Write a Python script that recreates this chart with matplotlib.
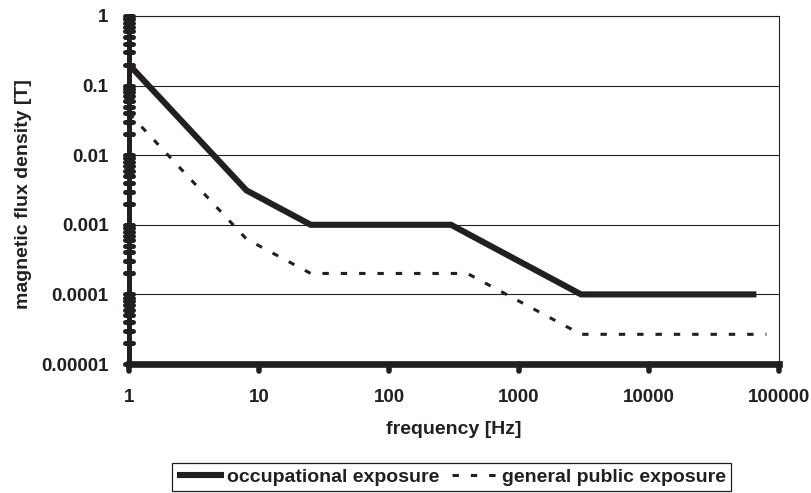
import numpy as np
import matplotlib
matplotlib.use('Agg')
import matplotlib.pyplot as plt
from matplotlib.markers import MarkerStyle
from matplotlib.ticker import FixedLocator, LogLocator, NullLocator, NullFormatter

# ====================== data ======================
# occupational exposure limits (frequency in Hz, flux density in T)
freq_occ = [1, 8, 25, 300, 3000, 67000]
b_occ = [0.2, 0.003125, 0.001, 0.001, 0.0001, 0.0001]

# general public exposure limits
freq_pub = [1, 8, 25, 400, 3000, 80000]
b_pub = [0.04, 0.000625, 0.0002, 0.0002, 0.0000267, 0.0000267]

x_ticks = [1, 10, 100, 1000, 10000, 100000]
x_tick_labels = ['1', '10', '100', '1000', '10000', '100000']
y_ticks = [1e-5, 1e-4, 1e-3, 1e-2, 1e-1, 1]
y_tick_labels = ['0.00001', '0.0001', '0.001', '0.01', '0.1', '1']

series_labels = ['occupational exposure', 'general public exposure']

# ====================== style ======================
INK = '#231f20'
plt.rcParams['font.family'] = ['Liberation Sans', 'DejaVu Sans']
plt.rcParams['font.weight'] = 'bold'
plt.rcParams['axes.labelweight'] = 'bold'
plt.rcParams['lines.scale_dashes'] = False

W, H = 811, 493
fig = plt.figure(figsize=(W / 100, H / 100), dpi=100)
# plot area in pixels: x 129..779, y 16..364
ax = fig.add_axes([129 / W, 1 - 364 / H, 650 / W, 348 / H])
ax.set_xscale('log')
ax.set_yscale('log')
ax.set_xlim(1, 1e5)
ax.set_ylim(1e-5, 1)

# horizontal gridlines at each decade
ax.yaxis.grid(True, which='major', color=INK, lw=0.8)
ax.set_axisbelow(True)

# ====================== lines ======================
occ, = ax.plot(freq_occ, b_occ, color=INK, lw=4.4, solid_joinstyle='miter',
               solid_capstyle='butt', label=series_labels[0], zorder=3)
pub, = ax.plot(freq_pub, b_pub, color=INK, lw=2.2, dashes=(4.6, 8.6),
               dash_capstyle='butt', label=series_labels[1], zorder=3)

# ====================== axes ======================
for side in ['top', 'right']:
    ax.spines[side].set_linewidth(0.8)
    ax.spines[side].set_color(INK)
ax.spines['left'].set_linewidth(3.6)
ax.spines['bottom'].set_linewidth(4.8)
ax.spines['left'].set_color(INK)
ax.spines['bottom'].set_color(INK)
ax.spines['left'].set_zorder(4)
ax.spines['bottom'].set_zorder(4)

ax.xaxis.set_major_locator(FixedLocator(x_ticks))
ax.xaxis.set_minor_locator(NullLocator())
ax.set_xticklabels(x_tick_labels)
ax.yaxis.set_major_locator(FixedLocator(y_ticks))
ax.yaxis.set_minor_locator(LogLocator(base=10, subs=np.arange(2, 10), numticks=20))
ax.yaxis.set_minor_formatter(NullFormatter())
ax.set_yticklabels(y_tick_labels)

ax.tick_params(axis='x', which='major', direction='out', length=5, width=4.0,
               color=INK, labelsize=13.5, labelcolor=INK, pad=13)
ax.tick_params(axis='y', which='both', direction='inout', length=5.5, width=3.6,
               color=INK, labelsize=13.5, labelcolor=INK, pad=12)

# round ends on the tick marks (Excel style dots)
for tl in ax.xaxis.get_ticklines() + ax.yaxis.get_ticklines() + ax.yaxis.get_ticklines(minor=True):
    tl.set_marker(MarkerStyle(tl.get_marker(), capstyle='round'))
    tl.set_clip_on(False)
    tl.set_zorder(5)

ax.set_xlabel('frequency [Hz]', fontsize=14, fontweight='bold', color=INK, va='center')
ax.xaxis.set_label_coords(0.5, (364 - 430) / 348)
ax.set_ylabel('magnetic flux density [T]', fontsize=14, fontweight='bold', color=INK, va='center')
ax.yaxis.set_label_coords((23 - 129) / 650, 0.5 - (194 - 190) / 348)

# ====================== legend ======================
leg = fig.legend(handles=[occ, pub], loc='center',
                 bbox_to_anchor=(451.5 / W, 1 - 477 / H), ncol=2,
                 fontsize=14, frameon=True, fancybox=False, framealpha=1,
                 edgecolor=INK, handlelength=2.4, handletextpad=0.2,
                 columnspacing=0.6, borderpad=0.25, borderaxespad=0)
leg.get_frame().set_linewidth(0.9)
for t in leg.get_texts():
    t.set_color(INK)

fig.savefig('out.png', dpi=100)
